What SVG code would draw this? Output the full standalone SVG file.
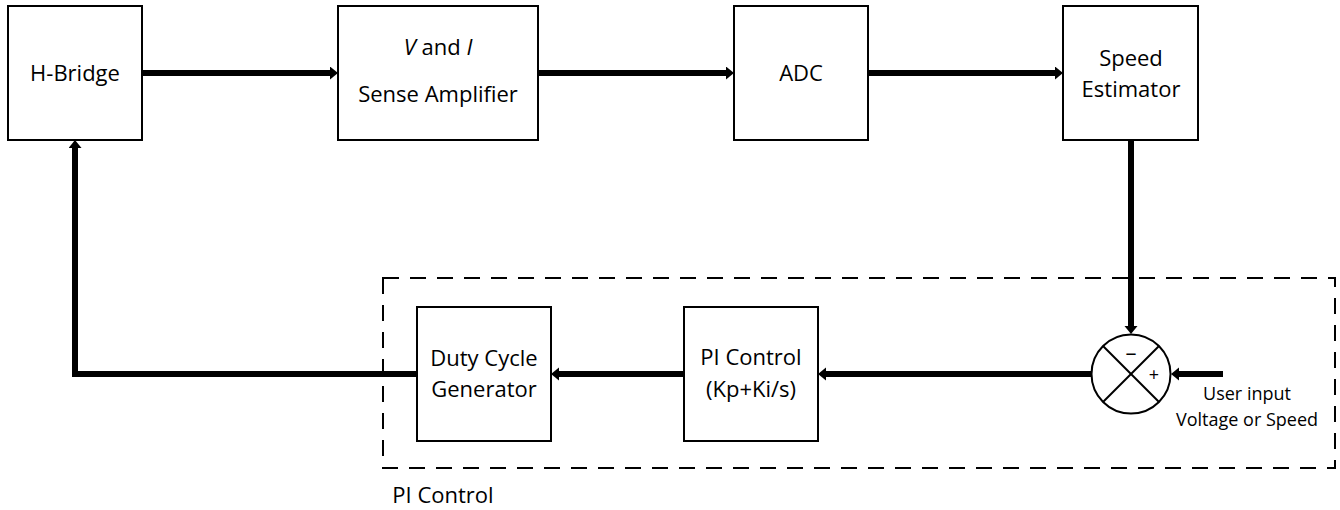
<svg xmlns="http://www.w3.org/2000/svg" width="1340" height="510" viewBox="0 0 1340 510">
<style>
.box{fill:#fff;stroke:#000;stroke-width:2}
.t{font-family:"Open Sans","Liberation Sans",sans-serif;font-size:22px;fill:#000;text-anchor:middle}
.s{font-family:"Open Sans","Liberation Sans",sans-serif;font-size:18px;fill:#000;text-anchor:middle}
.c{fill:none;stroke:#000;stroke-width:6;stroke-linejoin:miter}
.dash{fill:none;stroke:#000;stroke-width:2;stroke-dasharray:16 11}
</style>
<defs>
<marker id="ah" markerUnits="userSpaceOnUse" markerWidth="9" markerHeight="14" refX="1" refY="6.5" orient="auto" viewBox="0 0 9 14">
<path d="M0,0 L8,6.5 L0,13 z" fill="#000"/>
</marker>
</defs>
<rect class="dash" x="383" y="278" width="952" height="190"/>
<g id="connectors">
<line class="c" x1="142" y1="73" x2="331" y2="73" marker-end="url(#ah)"/>
<line class="c" x1="538" y1="73" x2="727" y2="73" marker-end="url(#ah)"/>
<line class="c" x1="868" y1="73" x2="1056" y2="73" marker-end="url(#ah)"/>
<line class="c" x1="1131" y1="140" x2="1131" y2="327" marker-end="url(#ah)"/>
<line class="c" x1="1223" y1="374" x2="1178" y2="374" marker-end="url(#ah)"/>
<line class="c" x1="1091" y1="374" x2="825" y2="374" marker-end="url(#ah)"/>
<line class="c" x1="684" y1="374" x2="558" y2="374" marker-end="url(#ah)"/>
<polyline class="c" points="417,374 75,374 75,147" marker-end="url(#ah)"/>
</g>
<g id="hbridge"><rect class="box" x="8" y="6" width="134" height="134"/><text class="t" x="75" y="81">H-Bridge</text></g>
<g id="sense"><rect class="box" x="338" y="6" width="200" height="134"/><text class="t" x="438" y="55"><tspan font-style="italic">V</tspan> and <tspan font-style="italic">I</tspan></text><text class="t" x="438" y="102">Sense Amplifier</text></g>
<g id="adc"><rect class="box" x="734" y="6" width="134" height="134"/><text class="t" x="801" y="81">ADC</text></g>
<g id="speed"><rect class="box" x="1063" y="6" width="135" height="134"/><text class="t" x="1131" y="66">Speed</text><text class="t" x="1131" y="97">Estimator</text></g>
<g id="sum"><circle cx="1131" cy="374" r="39.5" fill="#fff" stroke="#000" stroke-width="2"/>
<line x1="1103" y1="346" x2="1159" y2="402" stroke="#000" stroke-width="2"/>
<line x1="1159" y1="346" x2="1103" y2="402" stroke="#000" stroke-width="2"/>
<text class="t" x="1131" y="360">–</text><text class="s" x="1154" y="381">+</text></g>
<g id="userinput"><text class="s" x="1247" y="400">User input</text><text class="s" x="1247" y="426">Voltage or Speed</text></g>
<g id="pi"><rect class="box" x="684" y="307" width="134" height="134"/><text class="t" x="751" y="365">PI Control</text><text class="t" x="751" y="397">(Kp+Ki/s)</text></g>
<g id="duty"><rect class="box" x="417" y="307" width="134" height="134"/><text class="t" x="484" y="366">Duty Cycle</text><text class="t" x="484" y="397">Generator</text></g>
<g id="group-label"><text class="t" x="443" y="503">PI Control</text></g>
</svg>
